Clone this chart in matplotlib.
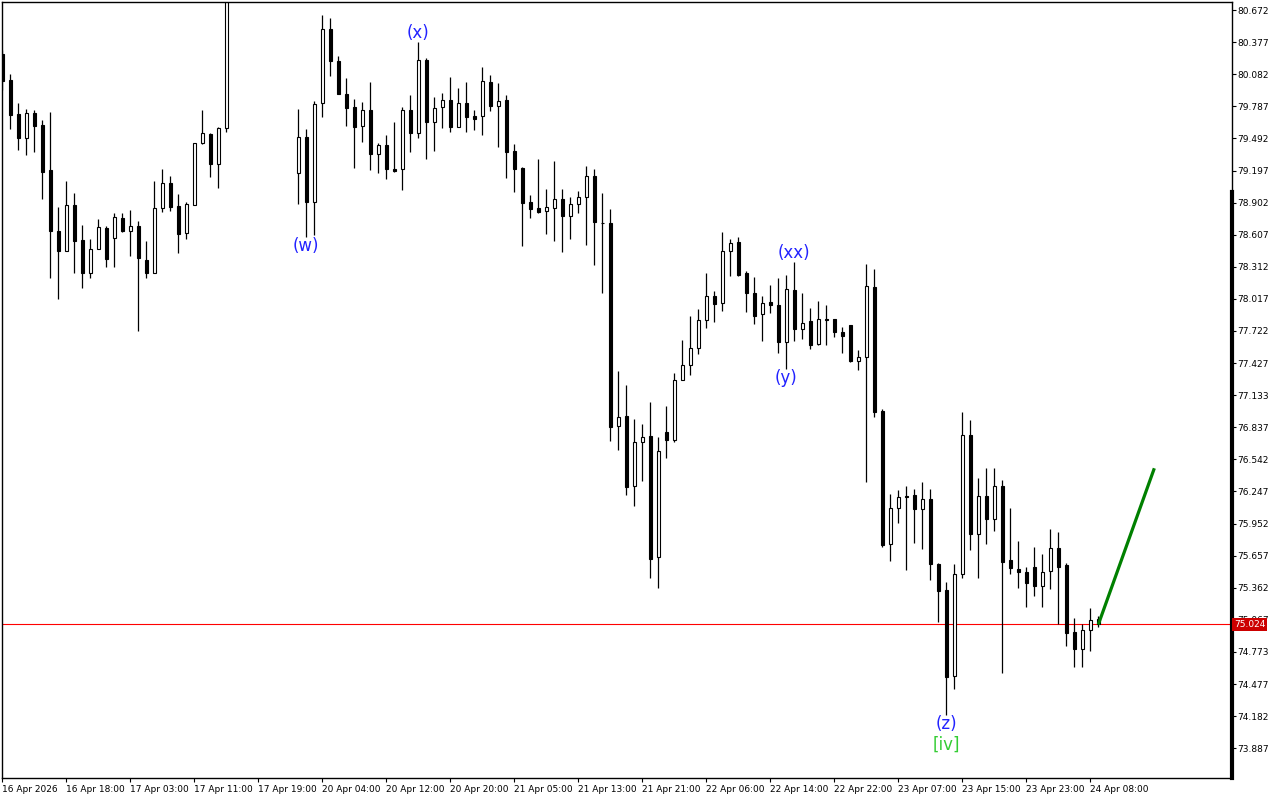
#Grafico de velas H1 con conteo de ondas (estilo MetaTrader)
import numpy as np
import matplotlib.pyplot as plt
from matplotlib.patches import Rectangle
import matplotlib.transforms as mtransforms

nan = np.nan

#Datos OHLC (una vela por hora)
aperturas = [80.268, 80.029, 79.716, 79.498, 79.723, 79.615, 79.202, 78.641, 78.460, 78.880,
             78.558, 78.258, 78.473, 78.666, 78.574, 78.758, 78.641, 78.684, 78.372, 78.252,
             78.850, 79.079, 78.871, 78.620, 78.880, 79.447, 79.530, 79.254, 79.585, nan,
             nan, nan, nan, nan, nan, nan, nan, 79.171, 79.502, 78.910,
             79.815, 80.495, 80.206, 79.897, 79.778, 79.603, 79.753, 79.346, 79.429, 79.208,
             79.208, 79.753, 79.539, 80.212, 79.645, 79.778, 79.845, 79.600, 79.815, 79.698,
             79.701, 80.010, 79.793, 79.845, 79.379, 79.223, 78.905, 78.850, 78.822, 78.850,
             78.932, 78.782, 78.886, 78.951, 79.144, 78.717, 78.712, 76.846, 76.938, 76.300,
             76.699, 76.754, 75.642, 76.793, 76.723, 77.269, 77.407, 77.563, 77.823, 78.041,
             77.976, 78.454, 78.540, 78.258, 78.068, 77.875, 77.988, 77.958, 77.623, 78.096,
             77.743, 77.814, 77.600, 77.829, 77.829, 77.710, 77.777, 77.449, 77.486, 78.126,
             76.986, 75.761, 76.092, 76.205, 76.214, 76.088, 76.178, 75.583, 75.341, 74.548,
             75.488, 76.766, 75.853, 76.202, 75.991, 76.294, 75.614, 75.531, 75.504, 75.550,
             75.375, 75.513, 75.724, 75.568, 74.952, 74.796, 74.971, 75.072]
maximos = [80.304, 80.084, 79.817, 79.762, 79.753, 79.661, 79.737, 78.864, 79.100, 78.990,
           78.696, 78.567, 78.751, 78.687, 78.804, 78.804, 78.834, 78.733, 78.549, 79.100,
           79.211, 79.146, 78.981, 78.910, 79.452, 79.753, 79.539, 79.600, 81.050, nan,
           nan, nan, nan, nan, nan, nan, nan, 79.762, 79.578, 79.836,
           80.626, 80.601, 80.249, 80.044, 79.851, 79.824, 80.008, 79.452, 79.520, 79.640,
           79.783, 79.891, 80.381, 80.231, 79.875, 79.912, 80.054, 79.952, 80.010, 79.753,
           80.151, 80.075, 79.998, 79.891, 79.438, 79.226, 78.972, 79.300, 79.024, 79.282,
           79.024, 78.951, 79.006, 79.238, 79.208, 78.987, 78.840, 77.354, 77.225, 76.910,
           76.867, 77.069, 76.745, 77.032, 77.333, 77.639, 77.860, 77.924, 78.255, 78.089,
           78.632, 78.567, 78.588, 78.270, 78.218, 78.043, 78.145, 78.206, 78.236, 78.356,
           78.071, 77.933, 77.998, 77.961, 77.829, 77.761, 77.777, 77.547, 78.338, 78.292,
           77.005, 76.221, 76.260, 76.297, 76.270, 76.337, 76.270, 75.589, 75.417, 75.580,
           76.975, 76.904, 76.368, 76.460, 76.460, 76.352, 76.095, 75.792, 75.550, 75.736,
           75.672, 75.899, 75.874, 75.587, 75.081, 75.026, 75.173, 75.102]
minimos = [79.937, 79.581, 79.388, 79.342, 79.370, 78.938, 78.212, 78.013, 78.460, 78.258,
           78.120, 78.212, 78.473, 78.313, 78.307, 78.634, 78.414, 77.724, 78.206, 78.252,
           78.818, 78.827, 78.441, 78.565, 78.880, 79.438, 79.140, 79.033, 79.554, nan,
           nan, nan, nan, nan, nan, nan, nan, 78.886, 78.588, 78.604,
           79.686, 80.068, 79.897, 79.606, 79.223, 79.456, 79.202, 79.171, 79.122, 79.180,
           79.018, 79.364, 79.493, 79.300, 79.379, 79.590, 79.554, 79.600, 79.554, 79.569,
           79.523, 79.744, 79.416, 79.131, 79.002, 78.506, 78.763, 78.804, 78.611, 78.552,
           78.451, 78.565, 78.804, 78.515, 78.328, 78.074, 76.713, 76.628, 76.214, 76.113,
           76.346, 75.454, 75.357, 76.557, 76.699, 77.269, 77.315, 77.513, 77.752, 77.807,
           77.908, 78.230, 78.230, 77.899, 77.786, 77.633, 77.884, 77.517, 77.370, 77.633,
           77.648, 77.554, 77.590, 77.593, 77.666, 77.522, 77.440, 77.363, 76.337, 76.934,
           75.739, 75.608, 75.960, 75.525, 75.776, 75.721, 75.433, 75.050, 74.192, 74.429,
           75.454, 75.712, 75.454, 75.767, 75.881, 74.576, 75.486, 75.357, 75.182, 75.283,
           75.188, 75.353, 75.029, 74.829, 74.636, 74.636, 74.783, 75.004]
cierres = [80.020, 79.710, 79.498, 79.723, 79.609, 79.186, 78.644, 78.460, 78.880, 78.552,
           78.258, 78.473, 78.675, 78.388, 78.767, 78.644, 78.684, 78.390, 78.252, 78.850,
           79.079, 78.864, 78.611, 78.886, 79.447, 79.539, 79.254, 79.585, 80.950, nan,
           nan, nan, nan, nan, nan, nan, nan, 79.502, 78.910, 79.805,
           80.495, 80.206, 79.897, 79.769, 79.600, 79.753, 79.349, 79.429, 79.208, 79.192,
           79.753, 79.539, 80.212, 79.640, 79.769, 79.842, 79.600, 79.815, 79.691, 79.670,
           80.017, 79.793, 79.833, 79.370, 79.213, 78.901, 78.846, 78.818, 78.859, 78.932,
           78.782, 78.886, 78.951, 79.144, 78.721, 78.712, 76.837, 76.934, 76.291, 76.699,
           76.745, 75.629, 76.616, 76.723, 77.269, 77.407, 77.563, 77.823, 78.041, 77.973,
           78.454, 78.528, 78.236, 78.068, 77.862, 77.976, 77.958, 77.623, 78.105, 77.743,
           77.792, 77.593, 77.829, 77.826, 77.715, 77.676, 77.449, 77.486, 78.135, 76.977,
           75.752, 76.092, 76.199, 76.200, 76.088, 76.178, 75.577, 75.335, 74.537, 75.486,
           76.766, 75.853, 76.202, 75.991, 76.294, 75.601, 75.541, 75.504, 75.403, 75.375,
           75.504, 75.724, 75.555, 74.949, 74.796, 74.971, 75.063, 75.024]

#Etiquetas de tiempo (una cada 8 velas)
etiquetas_tiempo = ['16 Apr 2026', '16 Apr 18:00', '17 Apr 03:00', '17 Apr 11:00', '17 Apr 19:00',
                    '20 Apr 04:00', '20 Apr 12:00', '20 Apr 20:00', '21 Apr 05:00', '21 Apr 13:00',
                    '21 Apr 21:00', '22 Apr 06:00', '22 Apr 14:00', '22 Apr 22:00', '23 Apr 07:00',
                    '23 Apr 15:00', '23 Apr 23:00', '24 Apr 08:00']

#Escala de precios del eje derecho
niveles_precio = [80.672, 80.377, 80.082, 79.787, 79.492, 79.197, 78.902, 78.607, 78.312, 78.017,
                  77.722, 77.427, 77.133, 76.837, 76.542, 76.247, 75.952, 75.657, 75.362, 75.067,
                  74.773, 74.477, 74.182, 73.887]

precio_actual = 75.024

#Conteo de ondas: texto, vela, extremo
ondas = [('(w)', 38, 'min'), ('(x)', 52, 'max'), ('(xx)', 99, 'max'),
         ('(y)', 98, 'min'), ('(z)', 118, 'min')]
onda_mayor = ('[iv]', 118)

#Proyeccion (linea verde)
proyeccion_x = [137, 144]
proyeccion_y = [75.024, 76.460]

##############################################################################
fig = plt.figure(figsize=(12.8, 8), dpi=100)
ax = fig.add_axes([2/1280, 22/800, 1230/1280, 776/800])
ax.set_xlim(-0.04, 153.71)
ax.set_ylim(73.613, 80.746)

ancho = 0.42
n = len(aperturas)
for i in range(n):
    o, h, l, c = aperturas[i], maximos[i], minimos[i], cierres[i]
    if np.isnan(o):
        continue
    ax.vlines(i, l, h, color='black', lw=0.9, zorder=2)
    color = 'white' if c > o else 'black'
    ax.add_patch(Rectangle((i - ancho/2, min(o, c)), ancho, abs(c - o),
                           facecolor=color, edgecolor='black', lw=0.8, zorder=3))

#Linea del precio actual
ax.axhline(precio_actual, color='red', lw=0.8, zorder=1)

#Proyeccion
ax.plot(proyeccion_x, proyeccion_y, color='#008000', lw=2.3, zorder=4,
        solid_capstyle='butt')

#Etiquetas de ondas
for texto, i, extremo in ondas:
    if extremo == 'max':
        ax.annotate(texto, (i, maximos[i]), xytext=(0, 0), textcoords='offset points',
                    ha='center', va='bottom', color='#2222ff', fontsize=12)
    else:
        ax.annotate(texto, (i, minimos[i]), xytext=(0, 0), textcoords='offset points',
                    ha='center', va='top', color='#2222ff', fontsize=12)
ax.annotate(onda_mayor[0], (onda_mayor[1], minimos[onda_mayor[1]]), xytext=(0, -15),
            textcoords='offset points', ha='center', va='top', color='#33cc33', fontsize=12)

#Ejes estilo MetaTrader
for lado in ['left', 'right', 'top', 'bottom']:
    ax.spines[lado].set_color('black')
    ax.spines[lado].set_linewidth(1)
    ax.spines[lado].set_zorder(6)

ax.yaxis.tick_right()
ax.set_yticks(niveles_precio)
ax.set_yticklabels([f'{p:.3f}' for p in niveles_precio])
ax.tick_params(axis='y', length=3, width=0.8, pad=1, labelsize=6.5)

ax.set_xticks(np.arange(0, n, 8))
ax.set_xticklabels(etiquetas_tiempo, ha='left')
ax.tick_params(axis='x', length=3, width=0.8, pad=2, labelsize=6.5)

#Caja del precio actual
trans = mtransforms.blended_transform_factory(ax.transAxes, ax.transData)
ax.text(1.0015, precio_actual, f'{precio_actual:.3f}', transform=trans, color='white',
        fontsize=6.5, va='center', ha='left', zorder=10,
        bbox=dict(facecolor='#cc0000', edgecolor='none', pad=1.2))

#Borde derecho grueso
ax.plot([1, 1], [78.999, 73.613], transform=trans, color='black', lw=3, clip_on=False)

plt.savefig('out.png', dpi=100)
